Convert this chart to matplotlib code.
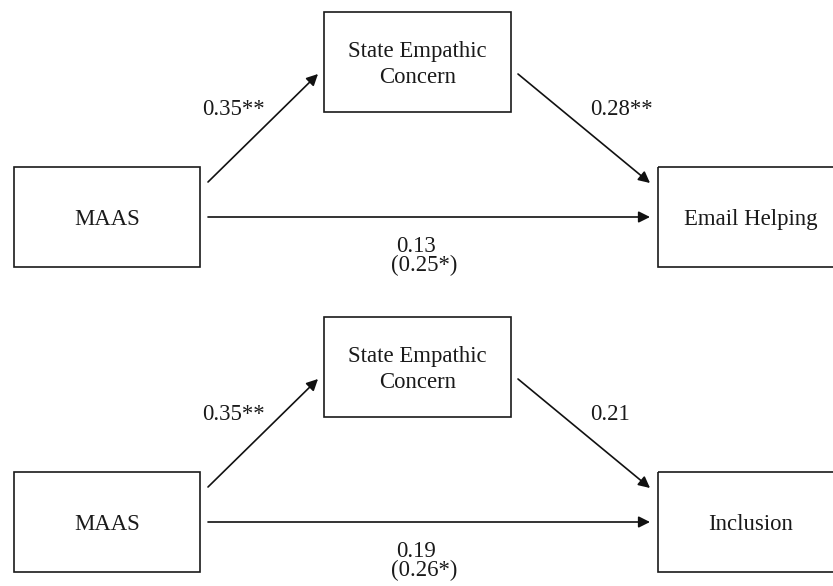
import matplotlib.pyplot as plt
from matplotlib.patches import Rectangle

# path model values, one entry per panel
predictors = ["MAAS", "MAAS"]
mediators = ["State Empathic\nConcern", "State Empathic\nConcern"]
outcomes = ["Email Helping", "Inclusion"]
a_paths = ["0.35**", "0.35**"]
b_paths = ["0.28**", "0.21"]
direct_paths = ["0.13", "0.19"]
total_paths = ["(0.25*)", "(0.26*)"]

plt.rcParams["font.family"] = ["Liberation Serif", "DejaVu Serif"]

fig = plt.figure(figsize=(8.33, 5.86), dpi=100)
ax = fig.add_axes([0, 0, 1, 1])
ax.set_xlim(0, 833)
ax.set_ylim(586, 0)
ax.axis("off")

FS = 16.4
LW = 1.2
INK = "#1a1a1a"


def txt(x, y, s, ha="center"):
    ax.text(x, y, s, ha=ha, va="baseline", fontsize=FS, color=INK)


def box(x0, y0, x1, y1, label, tx=None):
    ax.add_patch(Rectangle((x0, y0), x1 - x0, y1 - y0, fill=False,
                           edgecolor=INK, linewidth=LW))
    lines = label.split("\n")
    cx = (x0 + x1) / 2 if tx is None else tx
    cy = (y0 + y1) / 2
    first = cy + 8 - 13 * (len(lines) - 1)
    for k, line in enumerate(lines):
        txt(cx, first + 26 * k, line)


def arrow(x0, y0, x1, y1):
    ax.annotate("", xy=(x1, y1), xytext=(x0, y0),
                arrowprops=dict(arrowstyle="-|>", color="#111111", lw=LW,
                                mutation_scale=17, shrinkA=0, shrinkB=0))


for i in range(2):
    dy = 305 * i
    box(14, 167 + dy, 200, 267 + dy, predictors[i])
    box(324, 12 + dy, 511, 112 + dy, mediators[i])
    oy = 167 + dy if i == 0 else 472
    box(658, oy, 845, oy + 100, outcomes[i], tx=751)

    arrow(208, 182 + dy, 318, 74 + dy)
    arrow(518, 74 + dy, 650, 183 + dy)
    arrow(208, 217 + dy, 650, 217 + dy)

    txt(202, 115 + dy, a_paths[i], ha="left")
    txt(590, 115 + dy, b_paths[i], ha="left")
    txt(396, 252 + dy, direct_paths[i], ha="left")
    txt(391, 271 + dy, total_paths[i], ha="left")

fig.savefig("out.png", dpi=100)
